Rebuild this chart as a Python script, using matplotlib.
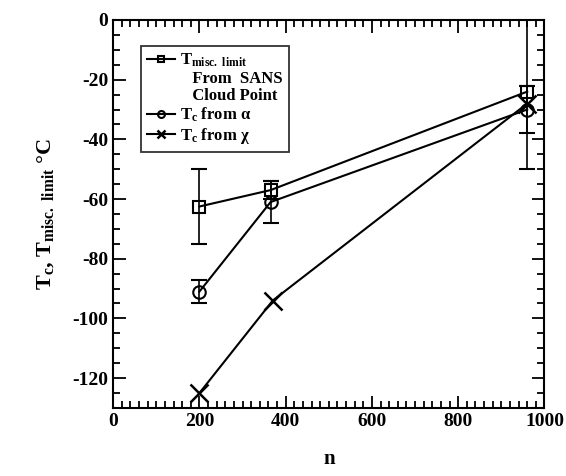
import matplotlib
matplotlib.use("Agg")
import matplotlib.pyplot as plt
from matplotlib.lines import Line2D
from matplotlib.ticker import MultipleLocator

# data
n_misc = [200, 365, 960]
t_misc = [-62.5, -57, -24]
err_misc = [12.5, 3, 26]

n_alpha = [200, 365, 960]
t_alpha = [-91, -61, -30]
err_alpha = [4, 7, 8]

n_chi = [200, 370, 960]
t_chi = [-125, -94, -28]

plt.rcParams["font.family"] = ["Liberation Serif", "DejaVu Serif"]
plt.rcParams["font.weight"] = "bold"
plt.rcParams["axes.unicode_minus"] = False
plt.rcParams["mathtext.fontset"] = "custom"
plt.rcParams["mathtext.rm"] = "Liberation Serif:bold"
plt.rcParams["mathtext.it"] = "Liberation Serif:bold"
plt.rcParams["mathtext.bf"] = "Liberation Serif:bold"

fig = plt.figure(figsize=(5.66, 4.76), dpi=100)
ax = fig.add_axes([0.2, 0.143, 0.762, 0.815])

ax.errorbar(n_misc, t_misc, yerr=err_misc, color="black", lw=1.5, marker="s",
            ms=9, mfc="none", mew=1.5, capsize=6, elinewidth=1.2)
ax.errorbar(n_alpha, t_alpha, yerr=err_alpha, color="black", lw=1.5, marker="o",
            ms=9, mfc="none", mew=1.5, capsize=6, elinewidth=1.2)
ax.plot(n_chi, t_chi, color="black", lw=1.5, marker="x", ms=13, mew=1.8)

ax.set_xlim(0, 1000)
ax.set_ylim(-130, 0)
ax.xaxis.set_major_locator(MultipleLocator(200))
ax.xaxis.set_minor_locator(MultipleLocator(20))
ax.yaxis.set_major_locator(MultipleLocator(20))
ax.yaxis.set_minor_locator(MultipleLocator(5))
ax.tick_params(which="both", direction="in", top=True, right=True, width=1.3)
ax.tick_params(which="major", length=9, labelsize=14)
ax.tick_params(which="minor", length=5)
for s in ax.spines.values():
    s.set_linewidth(1.5)

ax.set_xlabel("n", fontsize=15, fontweight="bold", labelpad=14)
ax.set_ylabel("T$_{\\mathrm{c}}$, T$_{\\mathrm{misc.\\ limit}}$ °C", fontsize=16,
              fontweight="bold", labelpad=12)

# legend: handle sits next to first line only, as in the original
blank = Line2D([], [], color="none")
handles = [
    Line2D([], [], color="black", lw=1.5, marker="s", ms=5, mfc="none", mew=1.5),
    blank, blank,
    Line2D([], [], color="black", lw=1.5, marker="o", ms=5, mfc="none", mew=1.5),
    Line2D([], [], color="black", lw=1.5, marker="x", ms=6, mew=1.8),
]
labels = [
    "T$_{\\mathrm{misc.\\ limit}}$",
    "   From  SANS",
    "   Cloud Point",
    "T$_{\\mathrm{c}}$ from $\\alpha$",
    "T$_{\\mathrm{c}}$ from $\\chi$",
]
leg = ax.legend(handles, labels, loc="upper left", bbox_to_anchor=(0.045, 0.955),
                fontsize=12, frameon=True, fancybox=False, edgecolor="black",
                handlelength=1.7, borderpad=0.35, labelspacing=0.1,
                handletextpad=0.3)
leg.get_frame().set_linewidth(1.3)

fig.savefig("out.png", dpi=100)
